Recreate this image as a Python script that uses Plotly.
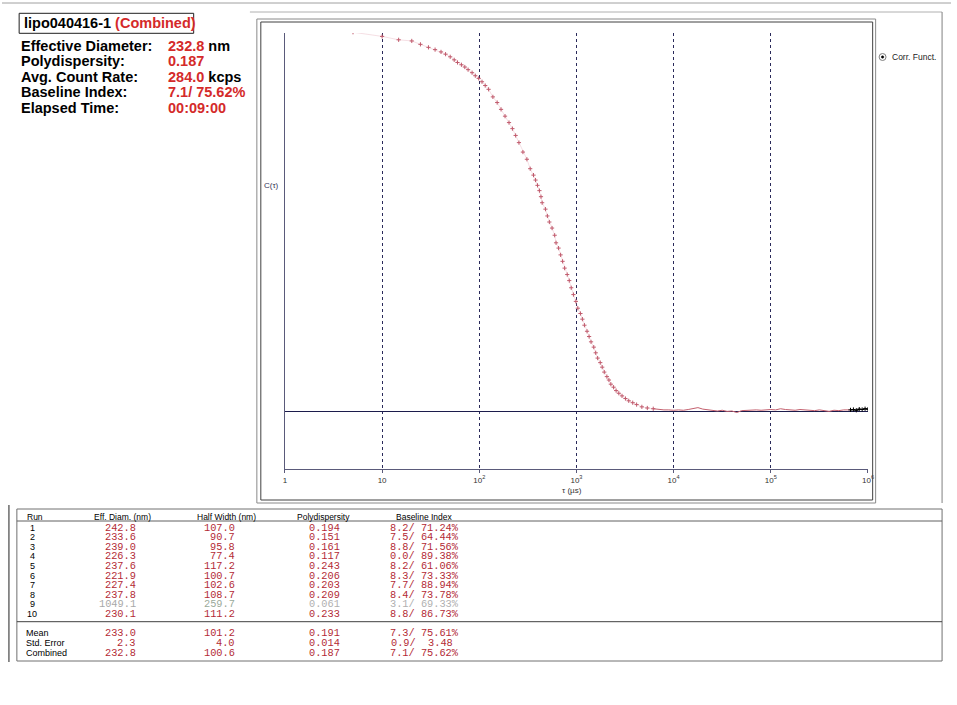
import plotly.graph_objects as go

W, H = 957, 705


def px(x):
    return x / W


def py(y):
    return 1 - y / H


# ---------------- data: correlation function ----------------
tau_us = [5.02, 10.0, 14.8, 20.2, 24.8, 30.0, 35.1, 40.4, 45.0, 50.2, 55.2, 59.7, 65.5,
          71.0, 76.7, 84.3, 91.0, 98.6, 106.7, 115.1, 124.7, 138.0, 152.8, 167.5, 184.1,
          202.3, 219.3, 236.6, 255.9, 281.2, 309.0, 334.2, 361.4, 379.3, 397.2, 415.9,
          431.5, 443.6, 479.7, 502.3, 526.0, 561.0, 597.0, 616.6, 654.6, 687.1, 719.5,
          755.1, 803.5, 843.3, 883.1, 931.1, 986.3, 1033, 1099, 1151, 1208, 1285, 1349,
          1413, 1507, 1578, 1652, 1758, 1841, 1932, 2056, 2158, 2259, 2410, 2559, 2729,
          2944, 3192, 3451, 3793, 4159, 4710, 5358, 6166]
corr = [1.002, 0.991, 0.982, 0.979, 0.970, 0.962, 0.956, 0.950, 0.944, 0.937, 0.929, 0.922,
        0.916, 0.910, 0.903, 0.895, 0.887, 0.880, 0.871, 0.861, 0.851, 0.831, 0.816, 0.798,
        0.780, 0.763, 0.747, 0.729, 0.710, 0.685, 0.666, 0.641, 0.624, 0.611, 0.597, 0.583,
        0.567, 0.551, 0.534, 0.516, 0.500, 0.484, 0.465, 0.445, 0.431, 0.413, 0.396, 0.378,
        0.361, 0.345, 0.326, 0.308, 0.290, 0.272, 0.258, 0.243, 0.227, 0.211, 0.197, 0.183,
        0.169, 0.154, 0.140, 0.128, 0.116, 0.103, 0.091, 0.082, 0.071, 0.063, 0.054, 0.047,
        0.040, 0.033, 0.027, 0.022, 0.017, 0.011, 0.008, 0.006]

tail_tau = [6166, 7079, 7943, 8913, 10000, 11220, 12589, 14125, 15849, 17783, 19953, 22387,
            25119, 28184, 31623, 35481, 39811, 44668, 50119, 56234, 63096, 70795, 79433,
            89125, 100000, 112202, 125893, 141254, 158489, 177828, 199526, 223872, 251189,
            281838, 316228, 354813, 398107, 446684, 501187, 562341, 630957, 660693]
tail_corr = [0.006, 0.004, 0.003, 0.003, 0.002, 0.003, 0.002, 0.004, 0.007, 0.009, 0.005,
             0.003, 0.001, 0.000, 0.002, -0.001, 0.000, -0.004, 0.001, 0.002, 0.001, 0.003,
             0.002, 0.003, 0.004, 0.003, 0.006, 0.004, 0.003, 0.002, 0.004, 0.003, 0.002,
             0.001, 0.003, 0.002, -0.001, 0.002, 0.001, 0.003, 0.003, 0.003]

end_tau = [660693, 707946, 758578, 812831, 870964, 933254, 1000000]
end_corr = [0.003, 0.004, 0.002, 0.005, 0.004, 0.006, 0.005]

tick_vals = [1, 10, 100, 1000, 10000, 100000, 1000000]
tick_text = ["1", "10", "10<sup>2</sup>", "10<sup>3</sup>", "10<sup>4</sup>",
             "10<sup>5</sup>", "10<sup>6</sup>"]

# ---------------- data: summary ----------------
sample_name = "lipo040416-1"
summary_labels = ["Effective Diameter:", "Polydispersity:", "Avg. Count Rate:",
                  "Baseline Index:", "Elapsed Time:"]
summary_values = ["232.8", "0.187", "284.0", "7.1/ 75.62%", "00:09:00"]
summary_units = [" nm", "", " kcps", "", ""]

# ---------------- data: runs table ----------------
col_headers = ["Run", "Eff. Diam. (nm)", "Half Width (nm)", "Polydispersity", "Baseline Index"]
runs = ["1", "2", "3", "4", "5", "6", "7", "8", "9", "10"]
eff_diam = [242.8, 233.6, 239.0, 226.3, 237.6, 221.9, 227.4, 237.8, 1049.1, 230.1]
half_width = [107.0, 90.7, 95.8, 77.4, 117.2, 100.7, 102.6, 108.7, 259.7, 111.2]
polydisp = [0.194, 0.151, 0.161, 0.117, 0.243, 0.206, 0.203, 0.209, 0.061, 0.233]
bl_index = [8.2, 7.5, 8.8, 0.0, 8.2, 8.3, 7.7, 8.4, 3.1, 8.8]
bl_pct = [71.24, 64.44, 71.56, 89.38, 61.06, 73.33, 88.94, 73.78, 69.33, 86.73]
excluded_run = 9

stat_labels = ["Mean", "Std. Error", "Combined"]
stat_diam = [233.0, 2.3, 232.8]
stat_half = [101.2, 4.0, 100.6]
stat_poly = [0.191, 0.014, 0.187]
stat_bl_index = [7.3, 0.9, 7.1]
stat_bl_pct = [75.61, 3.48, 75.62]
stat_pct_sign = ["%", " ", "%"]

RED = "#d42a2a"
TRED = "#b32a35"
NB = "\u00a0"

fig = go.Figure()
fig.add_trace(go.Scatter(x=tau_us, y=corr, mode="lines",
                         line=dict(color="rgba(210,110,130,0.22)", width=1),
                         hoverinfo="skip"))
fig.add_trace(go.Scatter(x=tail_tau, y=tail_corr, mode="lines",
                         line=dict(color="#c4606e", width=1), hoverinfo="skip"))
fig.add_trace(go.Scatter(x=tau_us, y=corr, mode="markers",
                         marker=dict(symbol="cross-thin", size=3,
                                     line=dict(width=1, color="#c05a6c")),
                         hoverinfo="skip"))
fig.add_trace(go.Scatter(x=end_tau, y=end_corr, mode="lines+markers",
                         line=dict(color="black", width=1.2),
                         marker=dict(symbol="cross-thin", size=3,
                                     line=dict(width=1, color="black")),
                         hoverinfo="skip"))

fig.update_layout(
    width=W, height=H, margin=dict(l=0, r=0, t=0, b=0),
    paper_bgcolor="white", plot_bgcolor="white", showlegend=False,
    xaxis=dict(type="log", range=[0, 6], domain=[px(285.3), px(873.3)],
               tickvals=tick_vals, ticktext=tick_text,
               showline=True, linecolor="#5a5a7a", linewidth=1,
               ticks="outside", ticklen=3, tickcolor="#5a5a7a",
               showgrid=True, gridcolor="#2a2a5a", griddash="dot", gridwidth=1,
               tickfont=dict(family="Arial", size=8, color="#333333"),
               zeroline=False, fixedrange=True),
    yaxis=dict(range=[-0.1534, 1.0], domain=[py(469), py(33)],
               showline=True, linecolor="#5a5a7a", linewidth=1,
               showticklabels=False, ticks="", showgrid=False,
               zeroline=True, zerolinecolor="#1c1c4c", zerolinewidth=1,
               fixedrange=True),
)

shapes = []


def hline(x0, x1, y, color, w=1):
    shapes.append(dict(type="line", xref="paper", yref="paper", x0=px(x0), x1=px(x1),
                       y0=py(y), y1=py(y), line=dict(color=color, width=w)))


def vline(x, y0, y1, color, w=1):
    shapes.append(dict(type="line", xref="paper", yref="paper", x0=px(x), x1=px(x),
                       y0=py(y0), y1=py(y1), line=dict(color=color, width=w)))


def rect(x0, y0, x1, y1, color, w=1):
    shapes.append(dict(type="rect", xref="paper", yref="paper", x0=px(x0), x1=px(x1),
                       y0=py(y1), y1=py(y0), line=dict(color=color, width=w)))


hline(0, 957, 3, "#a0a0a0")
hline(250, 948, 12, "#b0b0b0")
vline(948, 12, 503, "#808080")
rect(257, 19, 881, 503, "#8a8a8a")
rect(261, 22, 878, 500, "#404040")
rect(17.3, 13.3, 193.3, 33.3, "#202020")
rect(15, 509, 948, 661, "#707070")
hline(15, 948, 521, "#606060")
hline(15, 948, 621.7, "#404040")
vline(7, 505, 662, "#202020")
# legend radio icon
shapes.append(dict(type="circle", xref="paper", yref="paper",
                   x0=px(884.5), x1=px(891.5), y0=py(60.5), y1=py(53.5),
                   line=dict(color="#808080", width=1), fillcolor="white"))
shapes.append(dict(type="circle", xref="paper", yref="paper",
                   x0=px(886.8), x1=px(889.2), y0=py(58.2), y1=py(55.8),
                   line=dict(color="black", width=0.5), fillcolor="black"))
fig.update_layout(shapes=shapes)

ann = []


def text(x, y, s, size, color="black", family="Arial", anchor="left"):
    ann.append(dict(x=px(x), y=py(y), xref="paper", yref="paper", text=s,
                    showarrow=False, xanchor=anchor, yanchor="middle",
                    font=dict(family=family, size=size, color=color)))


text(20.5, 23.5, f"<b>{sample_name} <span style='color:{RED}'>(Combined)</span></b>", 14.5)
row_y = [45.5, 61, 76.5, 92, 107.5]
for lab, val, unit, y in zip(summary_labels, summary_values, summary_units, row_y):
    text(17.3, y, f"<b>{lab}</b>", 14.5)
    text(165.7, y, f"<b><span style='color:{RED}'>{val}</span>{unit}</b>", 14.5)

text(895, 57, "Corr. Funct.", 8.5, "#222222")
text(272, 185, "C(τ)", 8, "#333355", anchor="center")
text(575, 490, "τ (µs)", 8, "#333333", anchor="center")

# table header
text(22.7, 516.7, col_headers[0], 8.5)
for h, cx in zip(col_headers[1:], [122, 226, 324.7, 425.7]):
    text(cx, 516.7, h, 8.5, anchor="center")

MONO = "Liberation Mono"
col_right = [137.3, 237.3, 342.7, 463.3]
for i, r in enumerate(runs):
    y = 527.7 + i * 9.56
    text(30.5, y, r, 9, anchor="center")
    if i + 1 == excluded_run:
        cols = ["#a8a8a8", "#9aaa9a", "#b0b0b0", "#b0b0b0"]
    else:
        cols = [TRED] * 4
    vals = [f"{eff_diam[i]:.1f}", f"{half_width[i]:.1f}", f"{polydisp[i]:.3f}",
            f"{bl_index[i]:.1f}/ {bl_pct[i]:5.2f}%".replace(" ", NB)]
    for v, xr, c in zip(vals, col_right, cols):
        text(xr, y, v, 10.3, c, MONO, "right")

for j, lab in enumerate(stat_labels):
    y = 633.3 + j * 9.7
    text(21.7, y, lab, 9)
    vals = [f"{stat_diam[j]:.1f}", f"{stat_half[j]:.1f}", f"{stat_poly[j]:.3f}",
            (f"{stat_bl_index[j]:.1f}/ {stat_bl_pct[j]:5.2f}" + stat_pct_sign[j]).replace(" ", NB)]
    for v, xr in zip(vals, col_right):
        text(xr, y, v, 10.3, TRED, MONO, "right")

fig.update_layout(annotations=ann)
fig.write_html("out.html", config={"displayModeBar": False},
               post_script="document.body.style.margin='0px';"
                           "document.body.style.overflow='hidden';")
